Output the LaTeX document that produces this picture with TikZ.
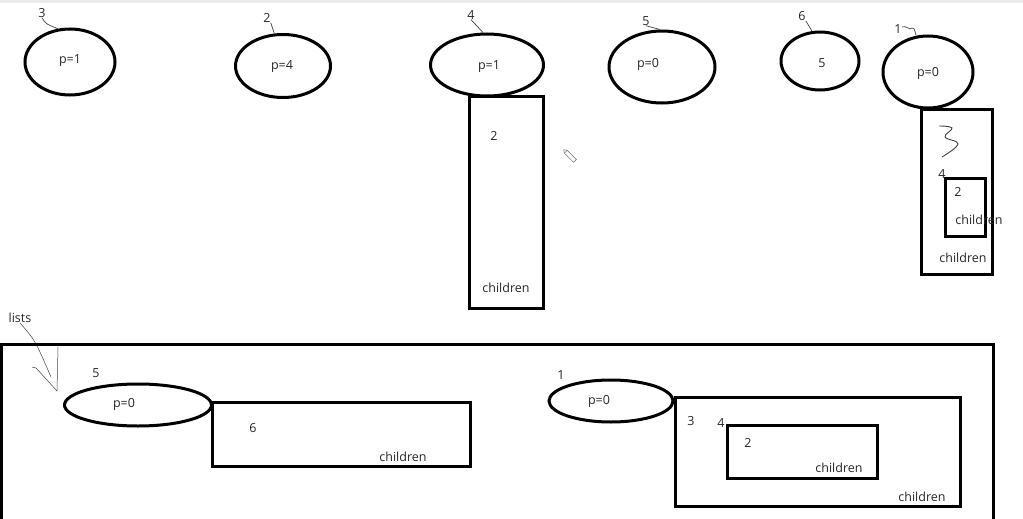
\documentclass[tikz,border=0pt]{standalone}
\usepackage{fontspec}
\setmainfont{Open Sans}
\usetikzlibrary{shapes.geometric}
\tikzset{
  ell/.style={ellipse, draw=black, line width=3pt, inner sep=0pt},
  boxn/.style={rectangle, draw=black, line width=3pt, inner sep=0pt},
  txt/.style={font=\fontsize{12.5}{14}\selectfont, text=black!85, inner sep=0pt},
  hand/.style={draw=black!75, line width=0.7pt},
}
\begin{document}
\begin{tikzpicture}[x=1pt,y=-1pt]
\useasboundingbox (0,0) rectangle (1023,519);
\fill[black!8] (0,0) rectangle (1023,3);
% top row ellipses
\node[ell, minimum width=90pt, minimum height=66pt] (e1) at (70,62) {};
\node[txt] (t1) at (70,61) {p=1};
\node[ell, minimum width=95pt, minimum height=63pt] (e2) at (283,66) {};
\node[txt] (t2) at (282,67) {p=4};
\node[ell, minimum width=113pt, minimum height=62pt] (e3) at (487,65) {};
\node[txt] (t3) at (489,67) {p=1};
\node[ell, minimum width=106pt, minimum height=72pt] (e4) at (662,67) {};
\node[txt] (t4) at (648,64) {p=0};
\node[ell, minimum width=78pt, minimum height=58pt] (e5) at (820,61) {};
\node[txt] (t5) at (822,63) {5};
\node[ell, minimum width=90pt, minimum height=72pt] (e6) at (928,72) {};
\node[txt] (t6) at (928,73) {p=0};
% handwritten labels
\node[txt] (l1) at (42,13) {3};
\draw[hand] (l1.south) .. controls (46,24) .. (e1.110);
\node[txt] (l2) at (267,18) {2};
\draw[hand] (l2.south east) -- (e2.105);
\node[txt] (l3) at (471,15) {4};
\draw[hand] (l3.south) -- (e3.97);
\node[txt] (l4) at (646,21) {5};
\draw[hand] (l4.south) -- (e4.93);
\node[txt] (l5) at (802,16) {6};
\draw[hand] (l5.south east) -- (e5.105);
\node[txt] (l6) at (898,29) {1};
\draw[hand] (902,27) .. controls (906,25) and (910,31) .. (912,28) .. controls (915,27) and (915,33) .. (e6.108);
% rect under e3
\node[boxn, minimum width=74pt, minimum height=212pt] (rA) at (506,202) {};
\node[txt] (rA2) at (494,136) {2};
\node[txt] (rAc) at (506,288) {children};
% pencil icon
\draw[black!50, line width=0.6pt, rotate around={-45:(570,156)}] (564,154) rectangle (577,158) (564,154) -- (561,156) -- (564,158);
% rect under e6
\node[boxn, minimum width=71pt, minimum height=165pt] (rB) at (956.5,191.5) {};
\draw[hand, line width=0.9pt] plot[smooth, tension=0.7] coordinates {(939,126) (952,128) (945,137) (958,144) (942,157)};
\node[txt] (rB4) at (942,174) {4};
\node[boxn, minimum width=40pt, minimum height=58pt] (rBi) at (965,207) {};
\node[txt] (rBi2) at (958,192) {2};
\node[txt] (rBic) at (979,220) {children};
\node[txt] (rBc) at (963,258) {children};
% lists
\node[txt] (lists) at (20,318) {lists};
\coordinate (tip) at (57,391);
\draw[hand, line width=0.5pt] (lists.south) .. controls (35,340) .. (51,377);
\draw[hand, line width=0.5pt] (32,367) -- (36,368) -- (tip) -- (58,347);
% big bottom frame
\draw[line width=3pt] (1.5,525) -- (1.5,344) -- (993,344) -- (993,525);
% bottom left
\node[ell, minimum width=147pt, minimum height=42pt] (b1) at (138,405) {};
\node[txt] (b1t) at (124,404) {p=0};
\node[txt] (b1l) at (96,373) {5};
\node[boxn, minimum width=258pt, minimum height=64pt] (rC) at (341,434) {};
\node[txt] (rC6) at (253,428) {6};
\node[txt] (rCc) at (403,457) {children};
% bottom right
\node[ell, minimum width=124pt, minimum height=42pt] (b2) at (611,401) {};
\node[txt] (b2t) at (599,401) {p=0};
\node[txt] (b2l) at (561,375) {1};
\node[boxn, minimum width=285pt, minimum height=109pt] (rD) at (817.5,451.5) {};
\node[txt] (rD3) at (691,421) {3};
\node[txt] (rD4) at (721,423) {4};
\node[boxn, minimum width=150pt, minimum height=53pt] (rE) at (802,451.5) {};
\node[txt] (rE2) at (748,443) {2};
\node[txt] (rEc) at (839,468) {children};
\node[txt] (rDc) at (922,497) {children};
\end{tikzpicture}
\end{document}
